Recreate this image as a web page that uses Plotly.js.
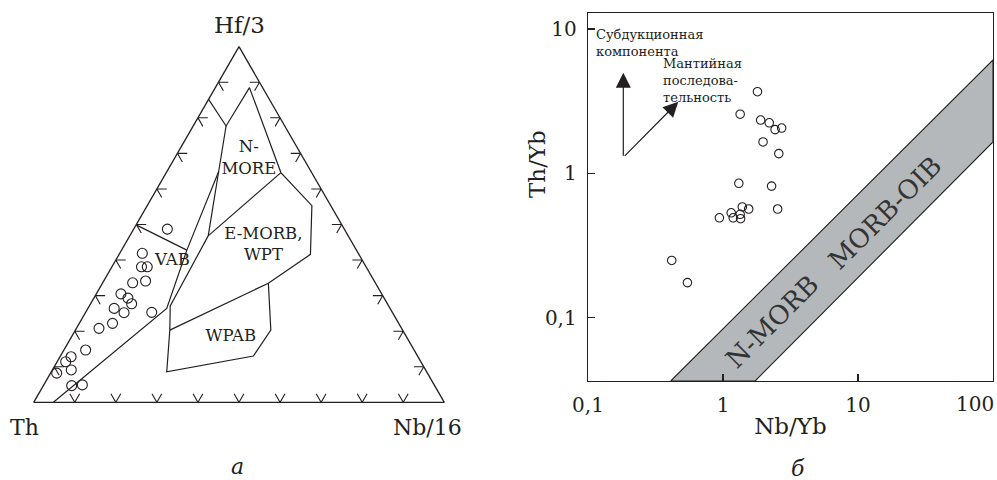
<!DOCTYPE html>
<html><head><meta charset="utf-8">
<script src="https://cdn.plot.ly/plotly-3.0.1.min.js"></script>
<style>html,body{margin:0;padding:0;background:#fff;}#chart{width:997px;height:480px;}</style>
</head><body><div id="chart"></div>
<script>
// ================= DATA =================
// Panel a: Hf/3 (a, top) – Th (b, bottom-left) – Nb/16 (c, bottom-right)
const sampleHf3  = [0.487,0.419,0.381,0.381,0.336,0.341,0.305,0.293,0.277,0.264,0.252,0.253,0.222,0.208,0.147,0.128,0.114,0.091,0.082,0.047,0.049];
const sampleTh   = [0.431,0.526,0.547,0.533,0.591,0.557,0.635,0.624,0.623,0.672,0.654,0.586,0.697,0.737,0.800,0.845,0.865,0.863,0.903,0.884,0.857];
const sampleNb16 = [0.082,0.055,0.072,0.086,0.073,0.102,0.060,0.083,0.100,0.064,0.094,0.161,0.081,0.055,0.053,0.027,0.021,0.046,0.015,0.069,0.094];

// Field boundaries, as [Hf/3, Th, Nb/16] vertices
const boundaryOuter   = [[0.852,0.148,0],[0.777,0.143,0.080],[0.885,0.032,0.083],[0.646,0.075,0.279],[0.553,0.046,0.401],[0.416,0.118,0.466],[0.335,0.261,0.404],[0.203,0.567,0.230]];
const boundaryNmorbW  = [[0.777,0.143,0.080],[0.649,0.225,0.126],[0.468,0.341,0.191]];
const boundaryNmorbS  = [[0.646,0.075,0.279],[0.468,0.341,0.191]];
const boundaryWpab    = [[0.468,0.341,0.191],[0.271,0.532,0.197],[0.203,0.567,0.230],[0.086,0.633,0.281],[0.130,0.400,0.470],[0.203,0.321,0.476],[0.335,0.261,0.404]];
const boundaryVabE    = [[0.649,0.225,0.126],[0.428,0.413,0.159],[0.264,0.544,0.192],[0,0.952,0.048]];
const boundaryVabN    = [[0.499,0.501,0],[0.428,0.413,0.159]];
const fieldLabels     = ['N-<br>MORE','E-MORB,<br>WPT','VAB','WPAB'];
const fieldLabelHf3   = [0.684,0.441,0.398,0.184];
const fieldLabelTh    = [0.134,0.220,0.463,0.428];
const fieldLabelNb16  = [0.182,0.339,0.139,0.388];
const ternaryTicks    = [0.1,0.2,0.3,0.4,0.5,0.6,0.7,0.8,0.9];

// Panel b: Th/Yb vs Nb/Yb
const nbYb = [1.80,1.34,1.90,2.20,2.43,2.72,1.98,2.59,1.31,2.29,1.39,1.55,1.15,1.19,1.34,1.35,0.94,2.54,0.417,0.545];
const thYb = [3.68,2.57,2.34,2.24,2.01,2.06,1.65,1.37,0.853,0.816,0.585,0.566,0.533,0.492,0.520,0.485,0.492,0.566,0.249,0.175];
const bandNbYb = [0.41,100,100,1.73,0.41];
const bandThYb = [0.0364,6.1,1.65,0.0364,0.0364];
const xTickVals = [0.1,1,10,100];
const xTickText = ['0,1','1','10',''];   // '100' sits at the frame edge; drawn as a note below
const yTickVals = [0.1,1,10];
const yTickText = ['0,1','1','10'];

// ================= STYLE / BUILD =================
const INK = '#231f20';
const FONT = 'DejaVu Serif, Liberation Serif, serif';

function boundaryTrace(pts){
  return {type:'scatterternary', mode:'lines',
    a:pts.map(p=>p[0]), b:pts.map(p=>p[1]), c:pts.map(p=>p[2]),
    line:{color:INK,width:1.2}, hoverinfo:'skip', cliponaxis:false};
}

// chevron tick marks along the three edges (stubs of the two crossing grid directions)
function chevronTrace(){
  const arm = 0.024, A=[],B=[],C=[];
  const put = p => { A.push(p?p[0]:null); B.push(p?p[1]:null); C.push(p?p[2]:null); };
  ternaryTicks.forEach(t=>{
    put([t,1-t-arm,arm]); put([t,1-t,0]); put([t-arm,1-t,arm]); put(null);   // left edge
    put([arm,1-t,t-arm]); put([0,1-t,t]); put([arm,1-t-arm,t]); put(null);   // bottom edge
    put([t,arm,1-t-arm]); put([t,0,1-t]); put([t-arm,arm,1-t]); put(null);   // right edge
  });
  return {type:'scatterternary', mode:'lines', a:A, b:B, c:C, connectgaps:false,
    line:{color:INK,width:1.1}, hoverinfo:'skip'};
}

const traces = [
  chevronTrace(),
  boundaryTrace(boundaryOuter), boundaryTrace(boundaryNmorbW), boundaryTrace(boundaryNmorbS),
  boundaryTrace(boundaryWpab), boundaryTrace(boundaryVabE), boundaryTrace(boundaryVabN),
  {type:'scatterternary', mode:'text', a:fieldLabelHf3, b:fieldLabelTh, c:fieldLabelNb16,
    text:fieldLabels, textposition:'middle center', textfont:{family:FONT,size:16.5,color:INK}, hoverinfo:'skip'},
  {type:'scatterternary', mode:'markers', a:sampleHf3, b:sampleTh, c:sampleNb16,
    marker:{symbol:'circle-open', size:10, color:INK, line:{width:1.1,color:INK}}, hoverinfo:'skip'},
  {type:'scatter', mode:'lines', x:bandNbYb, y:bandThYb, fill:'toself', fillcolor:'#b4b8bb',
    line:{color:INK,width:1.1}, xaxis:'x', yaxis:'y', hoverinfo:'skip'},
  {type:'scatter', mode:'markers', x:nbYb, y:thYb, xaxis:'x', yaxis:'y',
    marker:{symbol:'circle-open', size:8.5, color:INK, line:{width:1.1,color:INK}}, hoverinfo:'skip'}
];

const ternAxis = {showline:true, linecolor:INK, linewidth:1.3, showgrid:false, ticks:'', showticklabels:false, min:0, title:{text:''}};

function pAnn(text,x,y,size,extra){
  return Object.assign({xref:'paper',yref:'paper',x:x/997,y:1-y/480,text:text,showarrow:false,
    xanchor:'center',yanchor:'middle',font:{family:FONT,size:size,color:INK}},extra||{});
}

const layout = {
  width:997, height:480, margin:{l:0,r:0,t:0,b:0},
  paper_bgcolor:'#fff', plot_bgcolor:'#fff', showlegend:false, hovermode:false, dragmode:false,
  font:{family:FONT,color:INK,size:16},
  ternary:{domain:{x:[0.01472,0.46472], y:[0.16187,0.90271]}, sum:1, bgcolor:'#fff',
    aaxis:ternAxis, baxis:ternAxis, caxis:ternAxis},
  xaxis:{type:'log', domain:[0.58977,0.99599], range:[-1,2], anchor:'y',
    showline:true, mirror:true, linecolor:INK, linewidth:1.3, showgrid:false, zeroline:false,
    ticks:'inside', ticklen:7, tickwidth:1.2, tickcolor:INK,
    tickmode:'array', tickvals:xTickVals, ticktext:xTickText, tickfont:{family:FONT,size:20,color:INK},
    ticklabelstandoff:6,
    title:{text:'Nb/Yb', font:{family:FONT,size:23,color:INK}, standoff:1}},
  yaxis:{type:'log', domain:[0.20625,0.97229], range:[-1.439,1.109], anchor:'x',
    showline:true, mirror:true, linecolor:INK, linewidth:1.3, showgrid:false, zeroline:false,
    ticks:'inside', ticklen:7, tickwidth:1.2, tickcolor:INK,
    tickmode:'array', tickvals:yTickVals, ticktext:yTickText, tickfont:{family:FONT,size:20,color:INK},
    ticklabelstandoff:6},
  annotations:[
    pAnn('Hf/3',239,25,23),
    pAnn('Th',24.7,427,22),
    pAnn('Nb/16',427,427,22),
    pAnn('<i>а</i>',237,466,22),
    pAnn('<i>б</i>',798,468,22),
    pAnn('Th/Yb',537,164,23,{textangle:-90}),
    pAnn('100',975,404,20),
    pAnn('Субдукционная<br>компонента',594,43.5,13,{xanchor:'left',align:'left'}),
    pAnn('Мантийная<br>последова-<br>тельность',661,81,13,{xanchor:'left',align:'left'}),
    {xref:'x',yref:'y',x:0.361,y:-1.028,text:'N-MORB',showarrow:false,textangle:-45,
      font:{family:FONT,size:26,color:'#333'}},
    {xref:'x',yref:'y',x:1.2,y:-0.277,text:'MORB-OIB',showarrow:false,textangle:-45,
      font:{family:FONT,size:26,color:'#333'}},
    {xref:'x',yref:'y',axref:'x',ayref:'y',x:-0.7385,y:0.697,ax:-0.7385,ay:0.111,text:'',
      showarrow:true,arrowhead:2,arrowsize:2.5,arrowwidth:1.2,arrowcolor:INK,standoff:0,startstandoff:0},
    {xref:'x',yref:'y',axref:'x',ayref:'y',x:-0.331,y:0.496,ax:-0.7385,ay:0.111,text:'',
      showarrow:true,arrowhead:2,arrowsize:2.5,arrowwidth:1.2,arrowcolor:INK,standoff:0,startstandoff:0}
  ]
};

Plotly.newPlot('chart', traces, layout, {displayModeBar:false, staticPlot:true});
</script>
</body></html>
